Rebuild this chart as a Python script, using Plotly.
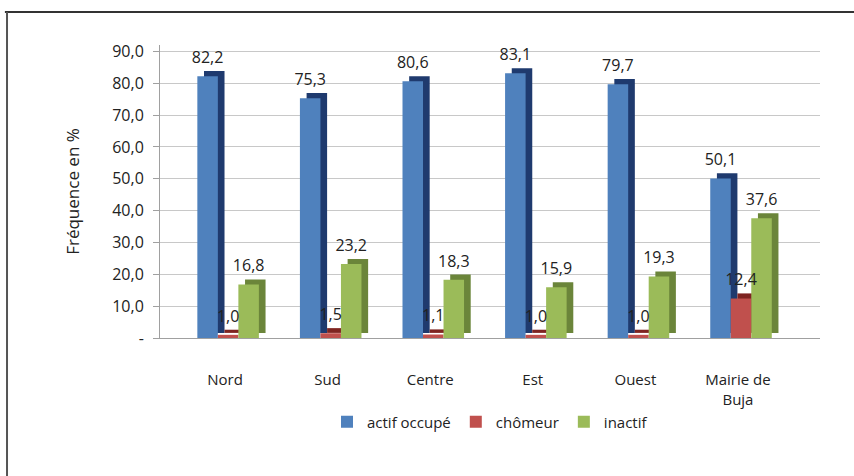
import plotly.graph_objects as go

categories = ["Nord", "Sud", "Centre", "Est", "Ouest", "Mairie de<br>Buja"]
actif_occupe = [82.2, 75.3, 80.6, 83.1, 79.7, 50.1]
chomeur = [1.0, 1.5, 1.1, 1.0, 1.0, 12.4]
inactif = [16.8, 23.2, 18.3, 15.9, 19.3, 37.6]
y_tick_vals = [0, 10, 20, 30, 40, 50, 60, 70, 80, 90]
y_tick_text = ["-", "10,0", "20,0", "30,0", "40,0", "50,0", "60,0", "70,0", "80,0", "90,0"]

series = [
    ("actif occupé", actif_occupe, "#4F81BD", "#1F3A6E"),
    ("chômeur", chomeur, "#C0504D", "#7E2421"),
    ("inactif", inactif, "#9BBB59", "#6B853A"),
]

W = 0.2           # bar width (category units)
DX = 0.065        # depth offset horizontal
DY = 1.6          # depth offset vertical (data units)
start = -0.27
FONT = "Open Sans, Lato, sans-serif"

def fmt(v):
    return f"{v:.1f}".replace(".", ",")

fig = go.Figure()

# depth (side/top) faces
for i, (name, vals, col, dark) in enumerate(series):
    fig.add_trace(go.Bar(
        x=categories, y=vals, base=[DY] * len(vals),
        offset=start + i * W + DX, width=W,
        marker=dict(color=dark, line=dict(width=0)),
        showlegend=False, hoverinfo="skip",
    ))

# front faces
for i, (name, vals, col, dark) in enumerate(series):
    fig.add_trace(go.Bar(
        x=categories, y=vals, name=name,
        offset=start + i * W, width=W,
        marker=dict(color=col, line=dict(width=0)),
    ))

# value labels
for i, (name, vals, col, dark) in enumerate(series):
    fig.add_trace(go.Bar(
        x=categories, y=vals, base=[DY] * len(vals),
        offset=start + i * W, width=W,
        marker=dict(color="rgba(0,0,0,0)", line=dict(width=0)),
        text=[fmt(v) for v in vals], textposition="outside",
        constraintext="none", cliponaxis=False,
        textfont=dict(family=FONT, size=16, color="#222222"),
        showlegend=False, hoverinfo="skip",
    ))

fig.update_layout(
    width=854, height=476,
    barmode="overlay",
    paper_bgcolor="white", plot_bgcolor="white",
    margin=dict(l=160, r=34, t=45, b=138),
    font=dict(family=FONT, size=15, color="#222222"),
    legend=dict(orientation="h", x=0.50, xanchor="center", y=-0.287, yanchor="middle",
                font=dict(size=15), traceorder="normal", itemwidth=30),
    shapes=[
        dict(type="line", xref="paper", yref="paper", x0=-0.235, x1=1.06, y0=1.1126, y1=1.1126,
             line=dict(color="#333333", width=2)),
        dict(type="line", xref="paper", yref="paper", x0=-0.2318, x1=-0.2318, y0=1.1126, y1=-0.48,
             line=dict(color="#555555", width=2)),
    ],
)
fig.update_yaxes(
    range=[0, 92], tickvals=y_tick_vals, ticktext=y_tick_text,
    showgrid=True, gridcolor="#C8C8C8", gridwidth=1,
    showline=True, linecolor="#A0A0A0", ticks="outside", tickcolor="#A0A0A0", ticklen=6,
    ticklabelstandoff=6,
    title=dict(text="Fréquence en %", standoff=28, font=dict(size=17)),
    zeroline=False, tickfont=dict(size=16),
)
fig.update_xaxes(
    range=[-0.634, 5.80],
    showline=True, linecolor="#A0A0A0", ticks="", ticklabelstandoff=28,
    tickfont=dict(size=15),
)

fig.write_html("out.html", config={"displayModeBar": False},
               post_script="document.body.style.margin='0';")
